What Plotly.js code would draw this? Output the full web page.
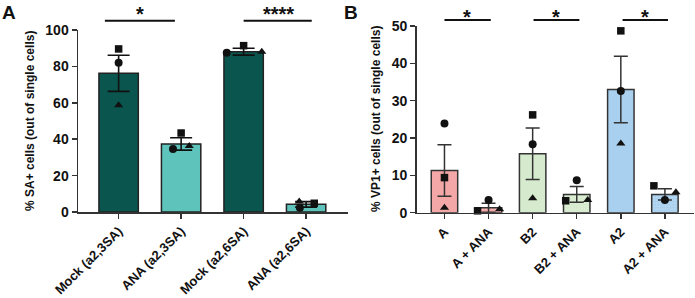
<!DOCTYPE html>
<html>
<head>
<meta charset="utf-8">
<script src="https://cdn.plot.ly/plotly-3.0.1.min.js"></script>
<style>html,body{margin:0;padding:0;background:#fff;}#chart{width:695px;height:298px;}</style>
</head>
<body>
<div id="chart"></div>
<script>
// ---- Panel A data ----
const catsA = ['Mock (a2,3SA)', 'ANA (a2,3SA)', 'Mock (a2,6SA)', 'ANA (a2,6SA)'];
const meanA = [76.2, 37.4, 88.1, 4.2];
const semA  = [9.9, 3.4, 1.9, 1.5];
const squareA   = [89.6, 43.4, 91.4, 4.8];
const circleA   = [82.0, 34.6, 87.5, 2.4];
const triangleA = [58.6, 36.3, 88.0, 5.8];
const ticksA = [0, 20, 40, 60, 80, 100];
const sigA = ['*', '****'];

// ---- Panel B data ----
const catsB = ['A', 'A + ANA', 'B2', 'B2 + ANA', 'A2', 'A2 + ANA'];
const meanB = [11.3, 1.3, 15.8, 4.9, 33.0, 4.9];
const semB  = [6.9, 1.2, 6.9, 2.1, 8.9, 1.5];
const squareB   = [9.4, 0.5, 26.2, 3.2, 48.7, 7.2];
const circleB   = [23.9, 3.4, 18.3, 8.7, 32.6, 3.4];
const triangleB = [1.3, 0.9, 3.9, 3.4, 18.5, 5.5];
const ticksB = [0, 10, 20, 30, 40, 50];
const sigB = ['*', '*', '*'];

// ---- styling (positions/jitter, colours) ----
const colA = ['#0a564f', '#5ec4bb', '#0a564f', '#5ec4bb'];
const colB = ['#f4a7a7', '#f4a7a7', '#d6eacd', '#d6eacd', '#a9d0ef', '#a9d0ef'];
const patB = ['', '.', '', '.', '', '.'];
const patFg = ['#111', '#4a1616', '#111', '#17240f', '#111', '#0c1e30'];
const jitA = {sq: [0, 0, 0, 0.13], ci: [0, -0.13, -0.27, -0.10], tr: [0, 0.13, 0.29, -0.11]};
const jitB = {sq: [0, -0.25, 0, -0.25, 0, -0.25], ci: [0, 0, 0, 0, 0, 0], tr: [0, 0.25, 0, 0.25, 0, 0.25]};

const idxA = catsA.map((_, i) => i);
const idxB = catsB.map((_, i) => i);
const FONT = 'Liberation Sans';
const ink = '#111';

function pts(idx, vals, jit, symbol, size, xa, ya) {
  return {type: 'scatter', mode: 'markers', x: idx.map(i => i + jit[i]), y: vals,
    xaxis: xa, yaxis: ya, cliponaxis: false, showlegend: false, hoverinfo: 'y',
    marker: {symbol: symbol, size: size, color: ink, line: {width: 0}}};
}

const traces = [
  {type: 'bar', x: idxA, y: meanA, xaxis: 'x', yaxis: 'y', width: 0.63, showlegend: false,
   marker: {color: colA, line: {color: '#222', width: 1.5}},
   error_y: {type: 'data', array: semA, visible: true, color: ink, thickness: 1.6, width: 11}},
  pts(idxA, squareA, jitA.sq, 'square', 7.5, 'x', 'y'),
  pts(idxA, circleA, jitA.ci, 'circle', 8, 'x', 'y'),
  pts(idxA, triangleA, jitA.tr, 'triangle-up', 8, 'x', 'y'),
  {type: 'bar', x: idxB, y: meanB, xaxis: 'x2', yaxis: 'y2', width: 0.6, showlegend: false,
   marker: {color: colB, line: {color: '#333', width: 1.5},
            pattern: {shape: patB, fgcolor: patFg, bgcolor: colB, fgopacity: 1, size: 3, solidity: 0.85}},
   error_y: {type: 'data', array: semB, visible: true, color: '#333', thickness: 1.5, width: 7}},
  pts(idxB, squareB, jitB.sq, 'square', 7.5, 'x2', 'y2'),
  pts(idxB, circleB, jitB.ci, 'circle', 8, 'x2', 'y2'),
  pts(idxB, triangleB, jitB.tr, 'triangle-up', 8, 'x2', 'y2'),
];

const xTickFont = {family: FONT, size: 13, color: ink, weight: 700};
const yTickFont = {family: FONT, size: 14, color: ink, weight: 700};
const axCommon = {showline: true, linecolor: '#333', linewidth: 1.5, ticks: 'outside', ticklen: 5,
  tickwidth: 1.5, tickcolor: '#333', showgrid: false, zeroline: false, fixedrange: true};

const W = 695, H = 298;
const titleFont = {family: FONT, size: 12, weight: 700, color: ink};
const starFont = {family: FONT, size: 20, weight: 700, color: ink};
const layout = {
  width: W, height: H, margin: {l: 0, r: 0, t: 0, b: 0},
  paper_bgcolor: '#fff', plot_bgcolor: '#fff', showlegend: false,
  font: {family: FONT, color: ink, weight: 700},
  xaxis: Object.assign({}, axCommon, {domain: [78 / W, 348 / W], range: [-0.65, 3.67], tickfont: xTickFont,
    tickvals: idxA, ticktext: catsA, tickangle: -45, anchor: 'y'}),
  yaxis: Object.assign({}, axCommon, {domain: [(H - 212) / H, (H - 30) / H], range: [0, 100], tickfont: yTickFont,
    tickvals: ticksA, anchor: 'x'}),
  xaxis2: Object.assign({}, axCommon, {domain: [416.7 / W, 694 / W], range: [-0.63, 5.66], tickfont: xTickFont,
    tickvals: idxB, ticktext: catsB, tickangle: -45, anchor: 'y2'}),
  yaxis2: Object.assign({}, axCommon, {domain: [(H - 212.7) / H, (H - 26) / H], range: [0, 50], tickfont: yTickFont,
    tickvals: ticksB, anchor: 'x2'}),
  shapes: [
    {type: 'line', xref: 'x', yref: 'paper', x0: -0.22, x1: 0.9, y0: (H - 20.7) / H, y1: (H - 20.7) / H, line: {color: ink, width: 2}},
    {type: 'line', xref: 'x', yref: 'paper', x0: 2.0, x1: 3.09, y0: (H - 20.7) / H, y1: (H - 20.7) / H, line: {color: ink, width: 2}},
    {type: 'line', xref: 'x2', yref: 'paper', x0: 0, x1: 1.05, y0: (H - 20) / H, y1: (H - 20) / H, line: {color: ink, width: 2}},
    {type: 'line', xref: 'x2', yref: 'paper', x0: 2.02, x1: 3.06, y0: (H - 20) / H, y1: (H - 20) / H, line: {color: ink, width: 2}},
    {type: 'line', xref: 'x2', yref: 'paper', x0: 4.04, x1: 5.07, y0: (H - 20) / H, y1: (H - 20) / H, line: {color: ink, width: 2}},
  ],
  annotations: [
    {text: '% SA+ cells (out of single cells)', textangle: -90, xref: 'paper', yref: 'paper', x: 39 / W, y: (H - 121) / H,
     xanchor: 'right', yanchor: 'middle', showarrow: false, font: titleFont},
    {text: '% VP1+ cells (out of single cells)', textangle: -90, xref: 'paper', yref: 'paper', x: 385 / W, y: (H - 119) / H,
     xanchor: 'right', yanchor: 'middle', showarrow: false, font: titleFont},
    {text: sigA[0], xref: 'x', yref: 'paper', x: 0.34, y: (H - 1) / H, yanchor: 'top', showarrow: false, font: starFont},
    {text: sigA[1], xref: 'x', yref: 'paper', x: 2.55, y: (H - 1) / H, yanchor: 'top', showarrow: false, font: starFont},
    {text: sigB[0], xref: 'x2', yref: 'paper', x: 0.52, y: (H - 4) / H, yanchor: 'top', showarrow: false, font: starFont},
    {text: sigB[1], xref: 'x2', yref: 'paper', x: 2.54, y: (H - 4) / H, yanchor: 'top', showarrow: false, font: starFont},
    {text: sigB[2], xref: 'x2', yref: 'paper', x: 4.55, y: (H - 4) / H, yanchor: 'top', showarrow: false, font: starFont},
    {text: 'A', xref: 'paper', yref: 'paper', x: 0, y: 1, xanchor: 'left', yanchor: 'top', showarrow: false, font: {family: FONT, size: 19, weight: 700, color: ink}},
    {text: 'B', x: 342 / W, xref: 'paper', yref: 'paper', y: 1, xanchor: 'left', yanchor: 'top', showarrow: false, font: {family: FONT, size: 19, weight: 700, color: ink}},
  ],
};

Plotly.newPlot('chart', traces, layout, {staticPlot: true, displayModeBar: false});
</script>
</body>
</html>
